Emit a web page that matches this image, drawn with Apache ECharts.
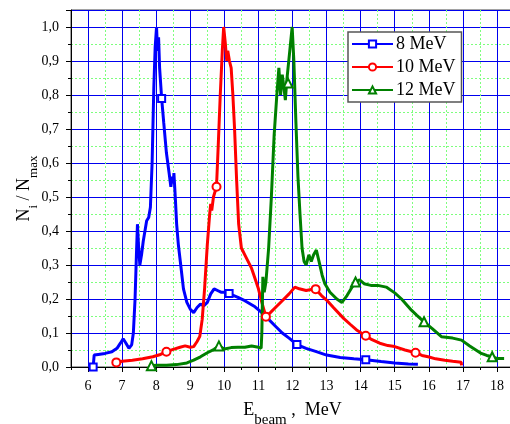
<!DOCTYPE html>
<html><head><meta charset="utf-8">
<script src="https://cdn.jsdelivr.net/npm/echarts@6/dist/echarts.min.js"></script>
<style>html,body{margin:0;padding:0;background:#fff}#c{width:510px;height:424px}</style>
</head><body><div id="c"></div>
<script>
const seriesNames = ['8 MeV', '10 MeV', '12 MeV'];
const curve8 = [[6.15,0],[6.18,0.035],[6.3,0.037],[6.5,0.04],[6.7,0.045],[6.85,0.055],[6.95,0.07],[7.03,0.083],[7.1,0.072],[7.2,0.055],[7.28,0.065],[7.33,0.1],[7.38,0.2],[7.42,0.33],[7.45,0.42],[7.48,0.36],[7.52,0.3],[7.57,0.33],[7.62,0.37],[7.67,0.4],[7.72,0.43],[7.78,0.44],[7.83,0.47],[7.88,0.6],[7.93,0.82],[7.97,0.94],[8.01,1.0],[8.04,0.93],[8.07,0.97],[8.1,0.88],[8.22,0.72],[8.3,0.63],[8.38,0.57],[8.43,0.53],[8.47,0.56],[8.5,0.54],[8.52,0.57],[8.56,0.5],[8.6,0.42],[8.65,0.36],[8.72,0.3],[8.8,0.23],[8.9,0.19],[9.0,0.17],[9.1,0.16],[9.2,0.175],[9.3,0.185],[9.4,0.18],[9.5,0.19],[9.6,0.215],[9.7,0.23],[9.8,0.225],[9.9,0.22],[10.0,0.22],[10.4,0.205],[10.6,0.195],[10.9,0.177],[11.1,0.16],[11.3,0.14],[11.5,0.12],[11.7,0.1],[11.9,0.085],[12.4,0.055],[12.7,0.045],[13.0,0.035],[13.4,0.028],[13.8,0.024],[14.6,0.016],[15.0,0.012],[15.4,0.009],[15.68,0.008]];
const marks8 = [[6.15,0.0],[8.16,0.79],[10.14,0.216],[12.13,0.066],[14.15,0.021]];
const curve10 = [[6.83,0.0135],[7.0,0.017],[7.3,0.02],[7.6,0.024],[7.9,0.03],[8.1,0.036],[8.5,0.052],[8.7,0.058],[8.85,0.062],[9.0,0.058],[9.1,0.06],[9.2,0.075],[9.28,0.09],[9.35,0.14],[9.42,0.23],[9.5,0.36],[9.57,0.45],[9.6,0.48],[9.63,0.46],[9.68,0.5],[9.82,0.65],[9.88,0.8],[9.94,0.93],[9.98,1.0],[10.03,0.95],[10.07,0.9],[10.1,0.93],[10.15,0.9],[10.2,0.88],[10.25,0.8],[10.3,0.7],[10.36,0.55],[10.42,0.42],[10.5,0.35],[10.6,0.33],[10.7,0.31],[10.8,0.29],[10.9,0.26],[11.0,0.23],[11.1,0.19],[11.35,0.16],[11.5,0.175],[11.7,0.195],[11.9,0.215],[12.07,0.235],[12.2,0.23],[12.4,0.225],[12.55,0.228],[12.85,0.21],[13.0,0.197],[13.2,0.175],[13.5,0.143],[13.7,0.125],[13.88,0.109],[14.3,0.082],[14.56,0.07],[14.8,0.063],[15.0,0.06],[15.3,0.05],[15.8,0.034],[15.98,0.03],[16.2,0.024],[16.47,0.02],[16.7,0.017],[16.95,0.014],[16.96,0.005]];
const marks10 = [[6.83,0.0135],[8.3,0.045],[9.77,0.53],[11.22,0.148],[12.68,0.229],[14.15,0.092],[15.61,0.042]];
const curve12 = [[7.86,0.004],[8.0,0.005],[8.3,0.005],[8.6,0.007],[8.9,0.012],[9.1,0.02],[9.3,0.03],[9.5,0.042],[9.7,0.052],[10.0,0.053],[10.2,0.057],[10.4,0.058],[10.6,0.058],[10.8,0.062],[11.0,0.058],[11.08,0.055],[11.1,0.1],[11.13,0.265],[11.17,0.22],[11.22,0.25],[11.3,0.35],[11.38,0.5],[11.46,0.68],[11.54,0.8],[11.6,0.88],[11.65,0.8],[11.7,0.86],[11.75,0.82],[11.79,0.785],[11.83,0.84],[11.92,0.93],[11.99,1.0],[12.04,0.9],[12.1,0.72],[12.16,0.56],[12.22,0.45],[12.28,0.35],[12.34,0.31],[12.4,0.3],[12.48,0.33],[12.55,0.31],[12.62,0.33],[12.7,0.344],[12.78,0.31],[12.87,0.27],[12.95,0.245],[13.1,0.22],[13.3,0.2],[13.45,0.19],[13.6,0.21],[13.75,0.235],[13.97,0.256],[14.1,0.245],[14.3,0.24],[14.5,0.24],[14.75,0.235],[15.0,0.218],[15.2,0.2],[15.49,0.167],[15.65,0.152],[16.1,0.113],[16.37,0.089],[16.7,0.085],[16.96,0.079],[17.2,0.062],[17.54,0.04],[17.7,0.034],[18.0,0.025],[18.21,0.025]];
const marks12 = [[7.86,0.004],[9.84,0.062],[11.87,0.835],[13.85,0.25],[15.86,0.133],[17.86,0.03]];
const yTicks = ['0,0','0,1','0,2','0,3','0,4','0,5','0,6','0,7','0,8','0,9','1,0'];
const xMin = 5.5, xMax = 18.5, xFirst = 6, xLast = 18;

function build(curve, marks) {
  const pts = curve.map(p => ({value: p, symbol: 'none'}))
    .concat(marks.map(p => ({value: p})));
  pts.sort((a, b) => a.value[0] - b.value[0]);
  return pts;
}
const serif = 'Liberation Serif';
const L = 71, T = 10, W = 443, H = 357;
const pxPerUnit = W / (xMax - xMin);
const chart = echarts.init(document.getElementById('c'));
function mk(name, color, sym, curve, marks, size) {
  return {
    name: name, type: 'line', data: build(curve, marks), xAxisIndex: 0, yAxisIndex: 0,
    symbol: sym, symbolSize: size, showSymbol: true, showAllSymbol: true,
    lineStyle: {color: color, width: 3},
    itemStyle: {color: color, borderColor: color, borderWidth: 1.5},
    emphasis: {disabled: true}, animation: false, z: 3
  };
}
const blueLine = {color: '#0000ee', width: 1};
const greenLine = {color: '#7dff7d', width: 1, type: [2, 2]};
chart.setOption({
  animation: false,
  grid: [
    {left: L, top: T, width: W, height: H, show: true, borderColor: '#444', borderWidth: 1, backgroundColor: 'transparent', containLabel: false, outerBoundsMode: 'none'},
    {left: L + (xFirst - xMin) * pxPerUnit, top: T, width: (xLast - xFirst) * pxPerUnit, height: H, show: false, containLabel: false, outerBoundsMode: 'none'}
  ],
  legend: {
    left: 348, top: 32, orient: 'vertical', selectedMode: false,
    backgroundColor: '#fff', borderColor: '#555', borderWidth: 1.5, borderRadius: 0,
    padding: [3, 6, 3, 3], itemWidth: 41, itemHeight: 9, itemGap: 5,
    textStyle: {fontFamily: serif, fontSize: 18, color: '#000', padding: [0,0,0,-2]},
    data: seriesNames
  },
  xAxis: [{
    gridIndex: 0, type: 'value', min: xMin, max: xMax, interval: 0.5, position: 'bottom',
    axisLine: {show: true, onZero: false, lineStyle: {color: '#000', width: 1}},
    axisTick: {show: true, inside: false, length: 3, lineStyle: {color: '#000'}},
    splitLine: {show: true, lineStyle: greenLine},
    axisLabel: {show: false}
  }, {
    gridIndex: 1, type: 'value', min: xFirst, max: xLast, interval: 1, position: 'bottom',
    axisLine: {show: false, onZero: false},
    axisTick: {show: true, inside: false, length: 5, lineStyle: {color: '#000'}},
    splitLine: {show: true, lineStyle: blueLine},
    axisLabel: {fontFamily: serif, fontSize: 14, color: '#000', margin: 12},
    name: '{m|E}{s|beam}{m| ,  MeV}', nameLocation: 'middle', nameGap: 34, nameMoveOverlap: false,
    nameTextStyle: {rich: {m: {fontFamily: serif, fontSize: 18, color: '#000'}, s: {fontFamily: serif, fontSize: 15, color: '#000', verticalAlign: 'bottom', padding: [0,0,-9,0]}}}
  }],
  yAxis: [{
    gridIndex: 0, type: 'value', min: 0, max: 1.05, interval: 0.1,
    axisLine: {show: true, onZero: false, lineStyle: {color: '#000', width: 1}},
    axisTick: {show: true, inside: false, length: 5, lineStyle: {color: '#000'}},
    minorTick: {show: true, splitNumber: 2, length: 3, lineStyle: {color: '#000'}},
    splitLine: {show: true, lineStyle: blueLine},
    minorSplitLine: {show: true, lineStyle: greenLine},
    axisLabel: {fontFamily: serif, fontSize: 14, color: '#000', margin: 12,
      formatter: v => { const i = Math.round(v * 10); return (Math.abs(v * 10 - i) < 1e-6 && i <= 10) ? yTicks[i] : ''; }},
    name: '{m|N}{s|i}{m| / N}{s|max}', nameLocation: 'middle', nameGap: 38, nameMoveOverlap: false,
    nameTextStyle: {rich: {m: {fontFamily: serif, fontSize: 18, color: '#000'}, s: {fontFamily: serif, fontSize: 13, color: '#000', verticalAlign: 'bottom', padding: [0,0,-7,0]}}}
  }, {
    gridIndex: 1, type: 'value', min: 0, max: 1.05, show: false
  }],
  series: [
    mk(seriesNames[0], '#0000ff', 'emptyRect', curve8, marks8, 7),
    mk(seriesNames[1], '#ff0000', 'emptyCircle', curve10, marks10, 8),
    mk(seriesNames[2], '#008000', 'emptyTriangle', curve12, marks12, 9)
  ]
});
</script></body></html>
